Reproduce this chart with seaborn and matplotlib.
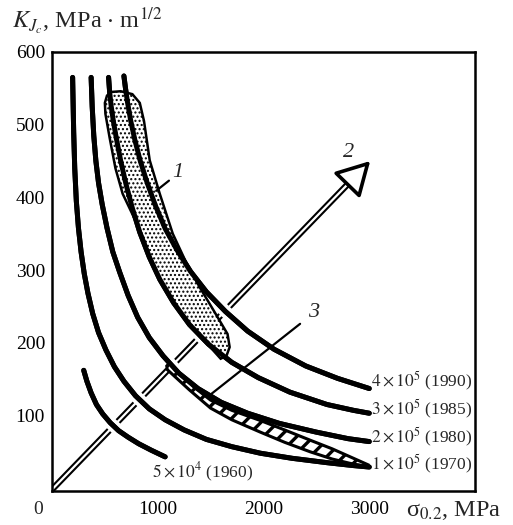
import numpy as np
import pandas as pd
import matplotlib
matplotlib.use("Agg")
import matplotlib.pyplot as plt
import matplotlib.patheffects as pe
import seaborn as sns

# ---------------- data ----------------
sigma_1e5 = [195, 205, 215, 230, 250, 275, 305, 340, 385, 440, 510, 590, 680, 790, 920, 1070,
             1250, 1460, 1700, 1970, 2270, 2600, 2850, 3000]
K_1e5 = [565, 490, 440, 395, 358, 325, 295, 268, 240, 214, 190, 167, 147, 127, 109, 94,
         80, 67, 57, 48, 41, 35, 31, 29]

sigma_2e5 = [370, 380, 395, 415, 440, 475, 520, 575, 640, 720, 810, 920, 1050, 1200, 1380,
             1600, 1850, 2150, 2500, 2800, 3000]
K_2e5 = [565, 525, 485, 450, 420, 390, 358, 325, 297, 265, 235, 207, 182, 158, 137,
         118, 103, 89, 77, 68, 64]

sigma_3e5 = [535, 545, 560, 580, 610, 650, 700, 760, 830, 920, 1020, 1150, 1300, 1480, 1700,
             1950, 2250, 2600, 2850, 3000]
K_3e5 = [565, 545, 525, 505, 480, 450, 418, 385, 352, 318, 287, 255, 225, 198, 173,
         152, 132, 115, 107, 103]

sigma_4e5 = [680, 695, 715, 745, 785, 835, 900, 980, 1070, 1180, 1310, 1460, 1640, 1850, 2100,
             2400, 2700, 3000]
K_4e5 = [567, 550, 530, 505, 478, 450, 420, 388, 357, 328, 298, 270, 243, 216, 191,
         168, 151, 137]

sigma_5e4 = [300, 330, 370, 420, 480, 550, 630, 720, 820, 940, 1070]
K_5e4 = [162, 147, 131, 115, 102, 90, 79, 70, 61, 52, 43]

curve_labels = [r"$1 \times 10^5$ (1970)", r"$2 \times 10^5$ (1980)",
                r"$3 \times 10^5$ (1985)", r"$4 \times 10^5$ (1990)"]
label_K = [33, 70, 108, 147]
label_sigma = 3020
label_5e4 = r"$5 \times 10^4$ (1960)"
label_5e4_pos = (950, 21)

# region 1 (stippled band) outline
band1_sigma = [560, 650, 760, 830, 870, 924, 1019, 1142, 1270, 1398, 1530, 1660, 1680, 1650, 1595,
               1521, 1400, 1275, 1140, 1019, 920, 829, 740, 668, 600, 545, 505, 500, 520]
band1_K = [545, 546, 542, 530, 505, 451, 405, 350, 310, 276, 244, 212, 194, 182, 178,
           190, 208, 229, 258, 288, 322, 356, 383, 405, 440, 482, 515, 530, 540]

# region 3 (hatched band) outline
band2_sigma = [1110, 1200, 1350, 1500, 1700, 1970, 2200, 2440, 2650, 2820, 2990,
               2990, 2820, 2650, 2440, 2200, 1970, 1700, 1500, 1300, 1150, 1090, 1085]
band2_K = [172, 157, 138, 121, 107, 93, 80, 66, 54, 43, 32,
           29, 34, 40, 50, 63, 77, 94, 110, 135, 155, 163, 168]

# arrow 2 (trend) and leader line 3
arrow_sigma = [0, 3009]
arrow_K = [-2, 450]
line3_sigma = [1493, 2346]
line3_K = [128, 226]
leader1_sigma = [1106, 985]
leader1_K = [423, 409]

x_ticks = [0, 1000, 2000, 3000]
x_ticklabels = ["", "1000", "2000", "3000"]
y_ticks = [100, 200, 300, 400, 500, 600]

# ---------------- style ----------------
sns.set_style("white")
plt.rcParams["font.family"] = ["Liberation Serif", "DejaVu Serif"]
plt.rcParams["mathtext.fontset"] = "stix"

fig = plt.figure(figsize=(5.13, 5.25), dpi=100)
ax = fig.add_axes([52 / 513, (525 - 491) / 525, (475 - 52) / 513, (491 - 52) / 525])

curves = [(sigma_1e5, K_1e5), (sigma_2e5, K_2e5), (sigma_3e5, K_3e5), (sigma_4e5, K_4e5), (sigma_5e4, K_5e4)]
frames = []
for i, (s, k) in enumerate(curves):
    frames.append(pd.DataFrame({"sigma": s, "K": k, "curve": i}))
df = pd.concat(frames, ignore_index=True)

# arrow shaft (double line)
frac = 0.93
shaft_end = (arrow_sigma[0] + frac * (arrow_sigma[1] - arrow_sigma[0]),
             arrow_K[0] + frac * (arrow_K[1] - arrow_K[0]))
ax.plot([arrow_sigma[0], shaft_end[0]], [arrow_K[0], shaft_end[1]], color="black", lw=4.6,
        zorder=1, solid_capstyle="butt")
ax.plot([arrow_sigma[0], shaft_end[0]], [arrow_K[0], shaft_end[1]], color="white", lw=1.6,
        zorder=1.1, solid_capstyle="butt")
ax.annotate("", xy=(arrow_sigma[1], arrow_K[1]), xytext=shaft_end,
            arrowprops=dict(arrowstyle="-|>,head_length=0.9,head_width=0.5", fc="white", ec="black",
                            lw=2.6, shrinkA=0, shrinkB=0, mutation_scale=23), zorder=1.2)

# curves with white halo (cut the arrow)
halo = [pe.Stroke(linewidth=9, foreground="white"), pe.Normal()]
for i in range(len(curves)):
    sub = df[df["curve"] == i]
    sns.lineplot(data=sub, x="sigma", y="K", sort=False, estimator=None, color="black", lw=3.6,
                 ax=ax, zorder=2, path_effects=halo, solid_capstyle="round")

# bands
with plt.rc_context({"hatch.linewidth": 1.0}):
    ax.fill(band1_sigma, band1_K, facecolor="white", edgecolor="black", hatch="....", lw=1.8, zorder=3)
with plt.rc_context({"hatch.linewidth": 2.4}):
    ax.fill(band2_sigma, band2_K, facecolor="white", edgecolor="black", hatch="//", lw=2.2, zorder=3)

# curves again over bands
for i in range(len(curves)):
    sub = df[df["curve"] == i]
    sns.lineplot(data=sub, x="sigma", y="K", sort=False, estimator=None, color="black", lw=3.6,
                 ax=ax, zorder=4, solid_capstyle="round")

# leader lines
ax.plot(line3_sigma, line3_K, color="black", lw=1.6, zorder=4.5)
ax.plot(leader1_sigma, leader1_K, color="black", lw=1.6, zorder=5)

# texts
for lab, ky in zip(curve_labels, label_K):
    ax.text(label_sigma, ky, lab, fontsize=12.5, ha="left", va="center", zorder=6)
ax.text(label_5e4_pos[0], label_5e4_pos[1], label_5e4, fontsize=12.5, ha="left", va="center", zorder=6)
ax.text(1135, 434, "1", fontsize=16, style="italic", ha="left", va="center", zorder=6)
ax.text(2750, 462, "2", fontsize=16, style="italic", ha="left", va="center", zorder=6)
ax.text(2420, 242, "3", fontsize=16, style="italic", ha="left", va="center", zorder=6)

ax.set_xlim(0, 4000)
ax.set_ylim(-4, 600)
ax.set_xticks(x_ticks)
ax.set_xticklabels(x_ticklabels)
ax.set_yticks(y_ticks)
ax.set_xlabel("")
ax.set_ylabel("")
ax.tick_params(direction="in", length=6, width=1.3, labelsize=14, pad=5, colors="black")
ax.tick_params(axis="x", pad=7)
for sp in ax.spines.values():
    sp.set_visible(True)
    sp.set_color("black")
    sp.set_linewidth(1.8)

fig.text(38 / 513, 1 - 509 / 525, "0", fontsize=14, ha="center", va="center")
fig.text(12 / 513, 1 - 21 / 525, r"$K_{J_c}$, MPa $\cdot$ m$^{1/2}$", fontsize=17.5, ha="left", va="center")
fig.text(406 / 513, 1 - 511 / 525, r"σ$_{0.2}$, MPa", fontsize=17.5, ha="left", va="center")

fig.savefig("out.png", dpi=100)
